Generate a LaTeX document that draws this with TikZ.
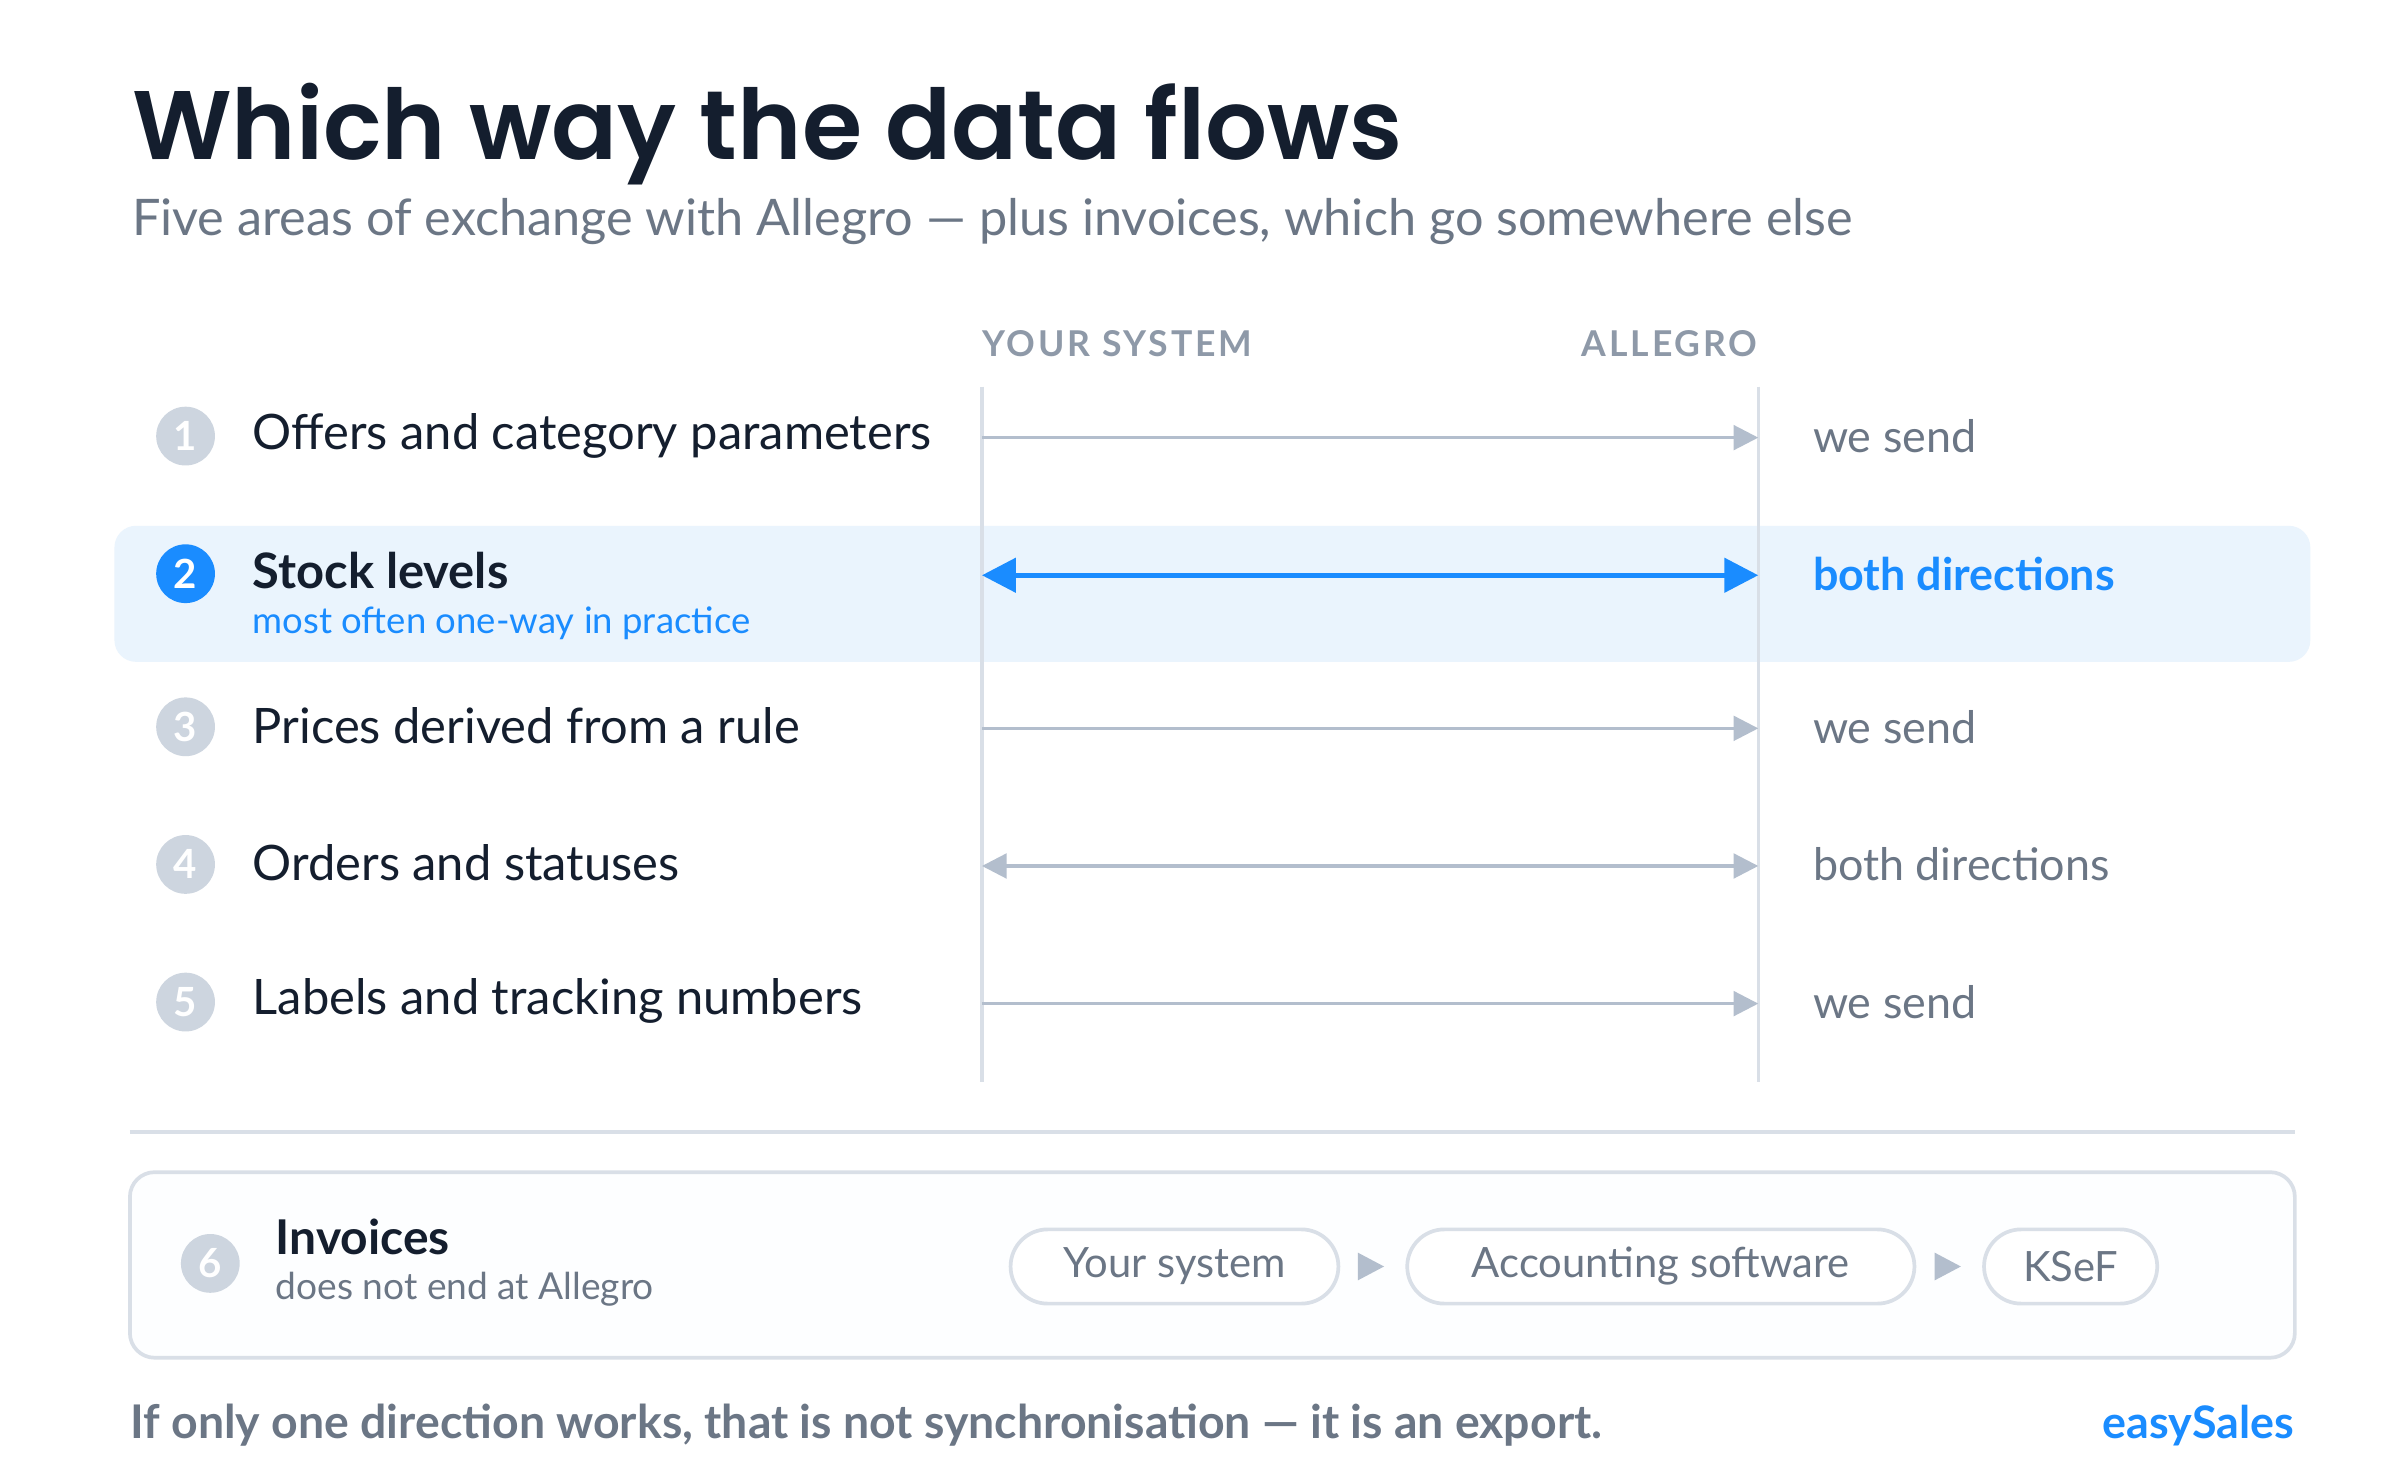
\documentclass[tikz,border=0pt]{standalone}
\usepackage{fontspec}
\setmainfont{Lato}
\newfontfamily\titlefont{Poppins SemiBold}
\usetikzlibrary{arrows.meta}
\definecolor{ink}{HTML}{141E2E}
\definecolor{sub}{HTML}{6B7685}
\definecolor{hdr}{HTML}{8E99A8}
\definecolor{vline}{HTML}{D9DFE7}
\definecolor{arr}{HTML}{B3BECD}
\definecolor{blue}{HTML}{1A8CFF}
\definecolor{hl}{HTML}{EAF4FD}
\definecolor{circ}{HTML}{CDD5DF}
\newcommand{\fs}[1]{\fontsize{#1}{#1}\selectfont}
\begin{document}
\begin{tikzpicture}[x=0.5pt,y=-0.5pt,
  num/.style={circle,fill=circ,text=white,minimum size=19pt,inner sep=0pt,font=\fs{13}\bfseries},
  lbl/.style={anchor=west,text=ink,font=\fs{15.8},inner sep=0pt},
  rt/.style={anchor=west,text=sub,font=\fs{14.5},inner sep=0pt},
  flow/.style={draw=arr,line width=1pt},
  pill/.style={draw=vline,line width=1.2pt,rounded corners=12pt,fill=white,minimum height=24pt,text=sub,font=\fs{13.5},inner sep=0pt}]
\useasboundingbox (0,0) rectangle (1552,957);
\fill[white] (0,0) rectangle (1552,957);
\node[anchor=base west,inner sep=0pt,text=ink,font=\titlefont\fs{31.5}] (title) at (85,103) {Which way the data flows};
\node[anchor=base west,inner sep=0pt,text=sub,font=\fs{16.3}] (subt) at (85,152) {Five areas of exchange with Allegro — plus invoices, which go somewhere else};
\node[anchor=west,inner sep=0pt,text=hdr,font=\fs{11.5}\bfseries\addfontfeature{LetterSpace=8}] (h1) at (635,222) {YOUR SYSTEM};
\node[anchor=east,inner sep=0pt,text=hdr,font=\fs{11.5}\bfseries\addfontfeature{LetterSpace=8}] (h2) at (1137,222) {ALLEGRO};
\fill[hl,rounded corners=7pt] (74,340) rectangle (1494,428);
\coordinate (va) at (635,250); \coordinate (vb) at (635,700);
\coordinate (vc) at (1137,250); \coordinate (vd) at (1137,700);
\draw[vline,line width=1pt] (va)--(vb) (vc)--(vd);
\node[num] (n1) at (120,282) {1}; \node[lbl] (l1) at (163,282) {Offers and category parameters};
\coordinate (a1) at (635,283); \coordinate (b1) at (1137,283);
\draw[flow,-{Triangle[length=8pt,width=8pt,fill=arr]}] (a1)--(b1);
\node[rt] (r1) at (1172,282) {we send};
\node[num,fill=blue] (n2) at (120,371) {2}; \node[lbl,font=\fs{15.8}\bfseries] (l2) at (163,369) {Stock levels};
\node[anchor=west,inner sep=0pt,text=blue,font=\fs{11.8}] (s2) at (163,403) {most often one-way in practice};
\coordinate (a2) at (635,372); \coordinate (b2) at (1137,372);
\draw[blue,line width=1.6pt,{Triangle[length=11pt,width=11pt]}-{Triangle[length=11pt,width=11pt]}] (a2)--(b2);
\node[rt,text=blue,font=\fs{14.5}\bfseries] (r2) at (1172,371) {both directions};
\node[num] (n3) at (120,470) {3}; \node[lbl] (l3) at (163,469) {Prices derived from a rule};
\coordinate (a3) at (635,471); \coordinate (b3) at (1137,471);
\draw[flow,-{Triangle[length=8pt,width=8pt,fill=arr]}] (a3)--(b3);
\node[rt] (r3) at (1172,470) {we send};
\node[num] (n4) at (120,559) {4}; \node[lbl] (l4) at (163,558) {Orders and statuses};
\coordinate (a4) at (635,560); \coordinate (b4) at (1137,560);
\draw[flow,{Triangle[length=8pt,width=8pt,fill=arr]}-{Triangle[length=8pt,width=8pt,fill=arr]}] (a4)--(b4);
\node[rt] (r4) at (1172,559) {both directions};
\node[num] (n5) at (120,648) {5}; \node[lbl] (l5) at (163,647) {Labels and tracking numbers};
\coordinate (a5) at (635,649); \coordinate (b5) at (1137,649);
\draw[flow,-{Triangle[length=8pt,width=8pt,fill=arr]}] (a5)--(b5);
\node[rt] (r5) at (1172,648) {we send};
\coordinate (sa) at (84,732); \coordinate (sb) at (1484,732);
\draw[vline,line width=1pt] (sa)--(sb);
\draw[vline,line width=1.2pt,fill=white!97!blue!30!white,rounded corners=8pt] (84,758) rectangle (1484,878);
\node[num] (n6) at (136,817) {6};
\node[anchor=west,inner sep=0pt,text=ink,font=\fs{15.5}\bfseries] (l6) at (178,800) {Invoices};
\node[anchor=west,inner sep=0pt,text=sub,font=\fs{12}] (s6) at (178,834) {does not end at Allegro};
\node[pill,minimum width=106pt] (p1) at (759.5,819) {Your system};
\node[pill,minimum width=164pt] (p2) at (1074,819) {Accounting software};
\node[pill,minimum width=56pt] (p3) at (1339,819) {KSeF};
\fill[arr] (878,810)--(895,819)--(878,828)--cycle;
\fill[arr] (1251,810)--(1268,819)--(1251,828)--cycle;
\node[anchor=base west,inner sep=0pt,text=sub,font=\fs{15}\bfseries] (foot) at (84,930) {If only one direction works, that is not synchronisation — it is an export.};
\node[anchor=base east,inner sep=0pt,text=blue,font=\fs{14.5}\bfseries] (brand) at (1484,930) {easySales};
\end{tikzpicture}
\end{document}
